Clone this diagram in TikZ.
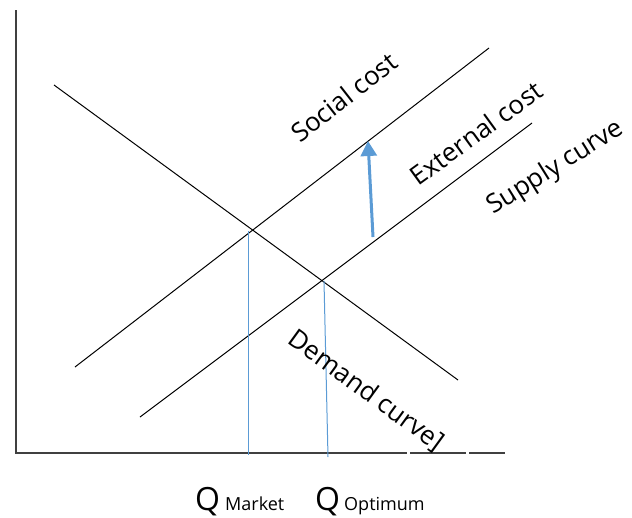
\documentclass[tikz,border=0pt]{standalone}
\usepackage{fontspec}
\setmainfont{Open Sans}
\usetikzlibrary{arrows.meta}
\definecolor{axisgray}{HTML}{404040}
\definecolor{qblue}{HTML}{5B9BD5}
\begin{document}
\begin{tikzpicture}[x=1pt,y=-1pt,
  curve/.style={black,line width=1pt},
  axisline/.style={axisgray,line width=1.4pt},
  qline/.style={qblue,line width=1pt},
  shiftarrow/.style={qblue,line width=3pt,-{Triangle[width=16pt,length=15pt]}},
  curvelabel/.style={inner sep=0pt,font=\fontsize{26}{29}\selectfont},
  qlabel/.style={inner sep=0pt,anchor=base west,font=\fontsize{32}{34}\selectfont},
  qsub/.style={inner sep=0pt,anchor=base west,font=\fontsize{18}{20}\selectfont}]
\useasboundingbox (0,0) rectangle (632,517);
% axes
\coordinate (origin) at (16,453);
\coordinate (ytop) at (16,10);
\coordinate (xa) at (407,453);
\coordinate (xb) at (410,453);
\coordinate (xc) at (466,453);
\coordinate (xd) at (469,453);
\coordinate (xend) at (505,453);
\draw[axisline] (ytop) -- (origin) -- (xa);
\draw[axisline] (xb) -- (xc);
\draw[axisline] (xd) -- (xend);
% demand, social cost and supply curves
\coordinate (d1) at (54,85);
\coordinate (d2) at (458,380);
\coordinate (s1) at (75,367);
\coordinate (s2) at (489,48);
\coordinate (p1) at (140,417);
\coordinate (p2) at (532,123);
\draw[curve] (d1) -- (d2);
\draw[curve] (s1) -- (s2);
\draw[curve] (p1) -- (p2);
% quantities at the two equilibria
\coordinate (m1) at (248.5,231);
\coordinate (m2) at (248.5,455);
\coordinate (o1) at (324,281);
\coordinate (o2) at (328,457);
\draw[qline] (m1) -- (m2);
\draw[qline] (o1) -- (o2);
% shift from private supply to social cost
\coordinate (a1) at (373,237);
\coordinate (a2) at (368,141);
\draw[shiftarrow] (a1) -- (a2);
% curve labels
\node[curvelabel,rotate=38] (lsocial) at (344,97) {Social cost};
\node[curvelabel,rotate=36] (lext) at (476,133) {External cost};
\node[curvelabel,rotate=32] (lsupply) at (556,168) {Supply curve};
\node[curvelabel,rotate=-36] (ldemand) at (366,391) {Demand curve]};
% quantity labels
\node[qlabel] (qm) at (195,510) {Q};
\node[qsub] (qmt) at (225,510) {Market};
\node[qlabel] (qo) at (315,510) {Q};
\node[qsub] (qot) at (344,510) {Optimum};
\end{tikzpicture}
\end{document}
